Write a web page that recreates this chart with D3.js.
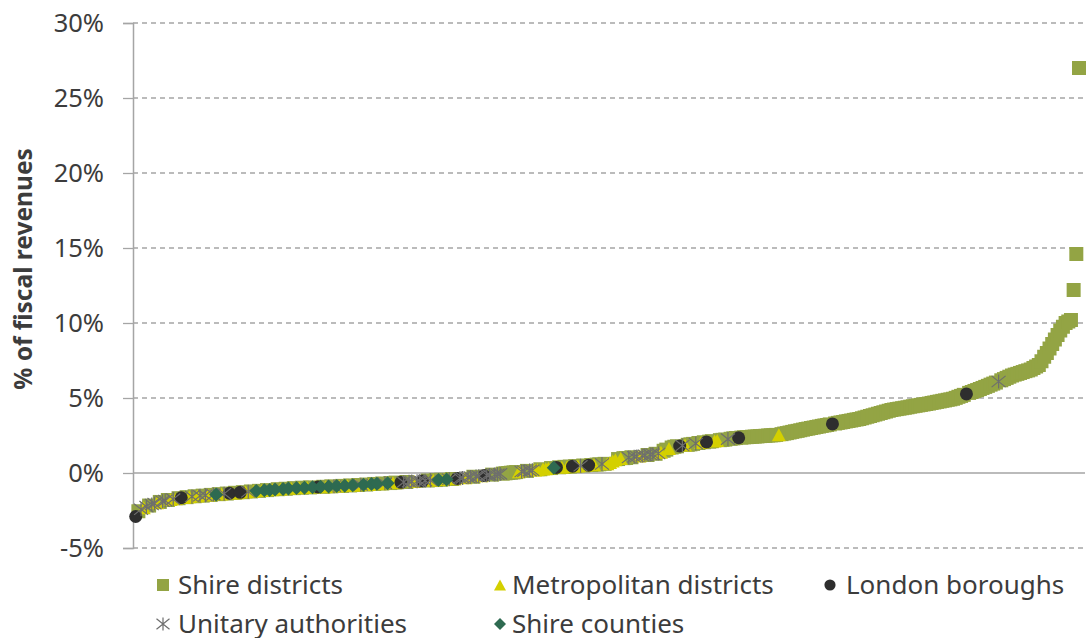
<!DOCTYPE html>
<html><head><meta charset="utf-8">
<script src="https://cdn.jsdelivr.net/npm/d3@7"></script>
<style>
body{margin:0;background:#fff}
svg{display:block}
text{font-family:"Noto Sans","Open Sans",sans-serif;fill:#3c3c3c}
</style>
</head><body>
<svg id="chart" width="1091" height="638"></svg>
<script>
// ---- data ----
const seriesCodes = ["S","M","L","U","C"];
const seriesNames = ["Shire districts","Metropolitan districts","London boroughs","Unitary authorities","Shire counties"];
const seriesColors = ["#93a444","#d4d000","#2e2e2e","#6e6e6e","#2e6a51"];
const yTickValues = [-5,0,5,10,15,20,25,30];
const yTitle = "% of fiscal revenues";

// councils ranked low to high, value in % of fiscal revenues
const councilValues = [
-2.90,-2.55,-2.42,-2.32,-2.24,-2.17,-2.10,-2.04,-1.98,-1.93,
-1.88,-1.84,-1.80,-1.77,-1.74,-1.71,-1.68,-1.65,-1.63,-1.61,
-1.59,-1.57,-1.55,-1.54,-1.52,-1.51,-1.49,-1.47,-1.46,-1.44,
-1.43,-1.41,-1.40,-1.38,-1.37,-1.35,-1.34,-1.32,-1.31,-1.29,
-1.28,-1.26,-1.25,-1.23,-1.22,-1.20,-1.19,-1.17,-1.15,-1.14,
-1.13,-1.11,-1.10,-1.08,-1.07,-1.06,-1.05,-1.03,-1.02,-1.01,
-1.00,-0.99,-0.98,-0.98,-0.97,-0.96,-0.95,-0.94,-0.93,-0.92,
-0.92,-0.91,-0.90,-0.89,-0.88,-0.87,-0.86,-0.86,-0.85,-0.84,
-0.83,-0.82,-0.81,-0.80,-0.79,-0.78,-0.77,-0.76,-0.74,-0.73,
-0.72,-0.71,-0.70,-0.69,-0.68,-0.67,-0.65,-0.64,-0.63,-0.62,
-0.61,-0.60,-0.58,-0.57,-0.56,-0.55,-0.54,-0.53,-0.51,-0.50,
-0.49,-0.48,-0.47,-0.46,-0.45,-0.44,-0.43,-0.42,-0.40,-0.38,
-0.36,-0.35,-0.33,-0.31,-0.29,-0.27,-0.25,-0.23,-0.21,-0.19,
-0.17,-0.15,-0.13,-0.11,-0.10,-0.08,-0.06,-0.04,-0.02,0.00,
0.02,0.04,0.06,0.08,0.10,0.12,0.14,0.16,0.18,0.20,
0.22,0.25,0.27,0.29,0.31,0.33,0.35,0.37,0.38,0.39,
0.41,0.42,0.43,0.45,0.46,0.47,0.48,0.50,0.51,0.52,
0.53,0.55,0.56,0.58,0.60,0.61,0.62,0.70,0.80,0.88,
0.93,0.97,0.99,1.00,1.03,1.05,1.08,1.10,1.13,1.15,
1.18,1.20,1.23,1.25,1.28,1.30,1.38,1.48,1.56,1.64,
1.70,1.75,1.78,1.80,1.83,1.86,1.88,1.91,1.94,1.97,
2.00,2.03,2.05,2.07,2.09,2.12,2.14,2.16,2.19,2.21,
2.23,2.26,2.28,2.31,2.33,2.35,2.36,2.38,2.39,2.40,
2.42,2.43,2.44,2.46,2.47,2.48,2.50,2.51,2.52,2.54,
2.55,2.59,2.63,2.66,2.70,2.74,2.78,2.81,2.85,2.89,
2.93,2.96,3.00,3.03,3.07,3.10,3.14,3.17,3.20,3.24,
3.27,3.30,3.34,3.37,3.40,3.44,3.47,3.50,3.54,3.57,
3.60,3.65,3.70,3.75,3.80,3.85,3.90,3.95,4.00,4.05,
4.10,4.15,4.20,4.23,4.26,4.29,4.32,4.35,4.38,4.42,
4.45,4.48,4.51,4.54,4.57,4.60,4.63,4.67,4.70,4.74,
4.77,4.81,4.84,4.88,4.91,4.95,5.01,5.08,5.14,5.21,
5.27,5.34,5.40,5.47,5.53,5.60,5.67,5.74,5.81,5.89,
5.96,6.03,6.10,6.18,6.26,6.34,6.42,6.50,6.56,6.61,
6.67,6.73,6.79,6.84,6.90,7.00,7.10,7.20,7.45,7.75,
8.00,8.30,8.60,8.90,9.20,9.50,9.75,10.00,10.10,10.20,
12.20,14.60,27.00
];
// council type at each rank (S shire district, M metropolitan, L London, U unitary, C shire county)
const councilTypes = (
"LSUMUSUUMS UUSMUMSLMS MUSMUSUMSU CSMUSLMSML SMUSMCSMCS " +
"CMCSMCSCMS CMSCMSCMLC SMCSUCMSCM SCMSUCSMCS CMSUCSMSML " +
"USUUMUULUS UMSCSMCUSM LUUMUUSUUM LUUSUUUSSS SSSMUUSUUM " +
"MSMMMSCLSM SMSLSMUSML SMSSUSMMMM SMSSUSUUMU USUUSUMSSM " +
"SSSLUMSSSU SMSLSSMMSS SUSSSLSSSS SSSSSSSSSS MSSSSSSSSS " +
"SSSSSSSSSS LSSSSSSSSS SSSSSSSSSS SSSSSSSSSS SSSSSSSSSS " +
"SSSSSSSSSS LSSSSSSSSS SSUSSSSSSS SSSSSSSSSS SSSSSSSSSS SSS"
).replace(/ /g,"");

// ---- build ----
const svg = d3.select("#chart");
const plot = {left:133, right:1085, top:23, bottom:548};

const y = d3.scaleLinear().domain([-5,30]).range([plot.bottom, plot.top]);
const x = d3.scaleLinear().domain([0, councilValues.length - 1]).range([135.7, 1079]);

const points = councilValues.map((v,i)=>({rank:i, value:v, type:councilTypes[i]}));

// gridlines
const gridColor = "#a5a5a5";
svg.append("g").selectAll("line").data(yTickValues.filter(d=>d!==0)).join("line")
  .attr("x1", plot.left).attr("x2", plot.right)
  .attr("y1", d=>y(d)).attr("y2", d=>y(d))
  .attr("stroke", gridColor).attr("stroke-width", 1.3).attr("stroke-dasharray","5,4");
// zero line
svg.append("line").attr("x1", plot.left).attr("x2", plot.right)
  .attr("y1", y(0)).attr("y2", y(0)).attr("stroke", gridColor).attr("stroke-width",1.5);

// y axis
const yAxis = d3.axisLeft(y).tickValues(yTickValues).tickSize(10).tickPadding(19)
  .tickFormat(d=>d+"%");
const ga = svg.append("g").attr("transform",`translate(${plot.left},0)`).call(yAxis);
ga.select(".domain").attr("stroke", gridColor).attr("stroke-width",1.5);
ga.selectAll(".tick line").attr("stroke", gridColor).attr("stroke-width",1.3);
ga.selectAll(".tick text").attr("font-size", 25.5).attr("fill","#3c3c3c")
  .attr("font-family",'"Noto Sans","Open Sans",sans-serif');

// title
svg.append("text").attr("transform", `translate(32,269) rotate(-90)`)
  .attr("text-anchor","middle").attr("font-size",24.5).attr("font-weight","bold")
  .text(yTitle);

// marker shapes
function markerPath(code, s){
  const h = s/2;
  switch(code){
    case "S": return `M${-h},${-h}H${h}V${h}H${-h}Z`;
    case "M": return `M0,${-h*0.93}L${h},${h*0.93}L${-h},${h*0.93}Z`;
    case "L": return d3.symbol(d3.symbolCircle, Math.PI*(h*0.93)*(h*0.93))();
    case "U": return `M0,${-h}V${h}M${-h},${-h*0.8}L${h},${h*0.8}M${-h},${h*0.8}L${h},${-h*0.8}`;
    case "C": return `M0,${-h}L${h},0L0,${h}L${-h},0Z`;
  }
}
function styleMarker(sel, code, i){
  if(code==="U") sel.attr("fill","none").attr("stroke",seriesColors[i]).attr("stroke-width",1.2);
  else sel.attr("fill",seriesColors[i]).attr("stroke","none");
}

const gPts = svg.append("g");
seriesCodes.forEach((code,i)=>{
  const sel = gPts.append("g").selectAll("path").data(points.filter(p=>p.type===code)).join("path")
    .attr("d", markerPath(code, 14))
    .attr("transform", d=>`translate(${x(d.rank)},${y(d.value)})`);
  styleMarker(sel, code, i);
});

// legend
const legendCols = [163, 500, 830];
const legendRows = [585, 624];
const legendTextOffset = [15, 12, 16];
seriesNames.forEach((name,i)=>{
  const col = i<3 ? i : i-3, row = i<3 ? 0 : 1;
  const g = svg.append("g").attr("transform",`translate(${legendCols[col]},${legendRows[row]})`);
  const m = g.append("path").attr("d", markerPath(seriesCodes[i], seriesCodes[i]==="U"?13:12));
  styleMarker(m, seriesCodes[i], i);
  g.append("text").attr("x", legendTextOffset[col]).attr("y",0).attr("dy","0.35em")
    .attr("font-size",26).text(name);
});
</script>
</body></html>
